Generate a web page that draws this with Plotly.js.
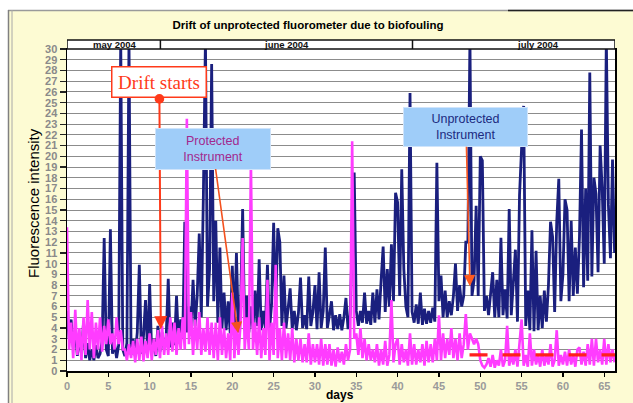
<!DOCTYPE html>
<html><head><meta charset="utf-8">
<script src="https://cdn.plot.ly/plotly-3.0.1.min.js"></script>
<style>html,body{margin:0;padding:0;background:#fff;overflow:hidden}#chart{width:633px;height:403px}</style>
</head><body><div id="chart"></div>
<script>
// sampling step of both series (days)
const dayStep = 0.25;

// Unprotected instrument (navy) – 4 readings per day, day 0 .. 66.25
const unprotected = [
 5.6,3.0,4.8,2.2, 3.8,1.4,3.2,1.6, 4.5,1.2,2.6,1.0, 2.0,1.0,2.4,1.2,
 1.6,2.8,12.4,2.0, 1.4,13.2,1.6,2.6, 1.2,2.4,31,2.0, 1.4,2.6,31,1.5,
 3.0,1.4,3.6,9.9, 1.6,3.2,6.6,1.8, 8.1,1.6,3.0,1.4, 4.2,1.8,3.6,2.0,
 3.2,8.6,2.2,4.5, 2.4,7.0,2.6,4.8, 3.0,13.9,3.6,6.0, 4.0,8.5,4.2,7.0,
 12.8,5.0,16.4,31, 6.0,9.5,28.6,6.5, 14.0,4.5,11.5,4.0, 7.3,3.8,6.5,3.5,
 9.8,3.8,11.0,3.6, 6.0,15.1,3.8,7.0, 3.6,6.0,4.0,7.5, 4.2,10.4,3.8,5.6,
 4.0,9.9,3.8,6.2, 13.8,5.5,13.3,12.0, 4.2,8.9,4.0,5.8, 7.7,3.9,5.6,3.8,
 5.4,8.7,4.0,5.2, 3.9,8.8,4.2,5.5, 8.0,3.9,9.2,4.0, 5.6,11.5,4.0,5.2,
 6.5,3.8,5.2,3.9, 5.3,3.8,5.0,6.8, 3.9,5.2,12.9,18.5, 5.6,4.2,5.6,4.5,
 7.3,4.4,5.6,4.3, 7.3,4.5,7.6,4.8, 8.4,11.6,5.5,9.5, 6.0,11.8,6.5,16.6,
 15.7,7.0,18.8,9.5, 6.0,5.0,25.9,5.5, 4.5,6.2,4.4,7.3, 4.3,5.8,4.4,5.6,
 4.5,5.9,4.6,19.4, 6.5,8.9,5.0,7.5, 5.0,6.5,5.2,7.0, 10.0,5.6,8.0,6.0,
 7.0,12.0,12.0,31, 7.0,8.5,15.4,7.0, 20.0,19.6,5.6,7.0, 5.2,7.2,9.2,5.0,
 8.5,5.0,12.4,5.2, 7.6,4.9,15.1,5.2, 8.0,11.3,4.6,16.4, 20.8,24.7,4.2,7.5,
 3.8,13.1,3.7,11.2, 3.8,7.0,4.0,7.5, 4.6,8.0,13.9,12.5, 5.5,13.9,17.9,6.5,
 9.0,16.0,15.0,6.5, 14.0,7.0,11.5,7.2, 12.5,22.5,7.8,17.0, 8.4,27.8,8.8,18.0,
 16.5,9.2,21.0,17.0, 10.0,31,15.5,10.5, 19.7,11.0
];

// Protected instrument (magenta) – 4 readings per day, day 0 .. 66.25
const protectedInstr = [
 13.4,2.0,4.5,1.2, 5.7,1.5,4.0,1.0, 5.0,1.5,6.6,2.0, 5.5,1.2,4.5,2.0,
 5.0,1.8,4.2,2.5, 4.8,2.5,3.5,2.0, 5.0,2.5,3.8,2.0, 2.0,1.0,2.5,1.2,
 2.8,0.8,3.0,1.0, 3.2,0.9,2.8,1.2, 3.5,1.0,3.0,1.5, 3.8,1.2,4.2,1.5,
 3.5,1.5,5.0,1.8, 4.5,1.5,4.0,2.0, 5.0,2.0,23.5,2.5, 5.5,1.5,4.8,2.0,
 5.5,1.5,4.0,1.8, 5.0,1.5,4.5,1.2, 4.5,1.0,5.0,1.5, 4.0,1.2,3.5,1.0,
 7.3,1.2,4.5,1.5, 4.5,12.4,2.0,5.0, 2.0,19.5,2.0,4.5, 1.5,5.0,1.2,4.0,
 1.5,8.5,1.0,4.5, 1.5,9.9,1.2,4.0, 1.0,4.5,1.2,3.5, 1.0,4.0,0.8,3.0,
 1.0,3.0,0.8,2.5, 0.8,3.5,0.6,2.5, 0.8,2.5,0.6,3.0, 0.5,2.5,0.6,2.5,
 0.5,2.0,0.4,2.2, 0.8,1.8,0.6,2.5, 1.0,2.0,21.4,3.0, 3.5,1.5,4.0,1.2,
 3.0,1.0,2.5,1.0, 2.0,0.8,2.5,0.5, 2.0,0.6,2.8,0.5, 1.5,6.6,0.8,2.5,
 3.0,0.6,2.5,0.8, 2.0,0.5,3.5,0.6, 2.5,0.6,2.0,0.8, 2.5,0.5,2.8,0.8,
 2.5,0.8,3.0,1.0, 5.2,1.0,3.5,1.2, 3.0,1.5,4.0,1.2, 3.0,1.0,3.5,1.2,
 2.5,5.3,2.0,3.5, 3.0,2.5,3.0,2.5, 1.0,0.5,0.3,0.6, 1.2,0.4,1.5,0.3,
 1.0,0.5,2.0,0.4, 1.0,4.2,0.5,1.5, 0.6,2.0,0.4,2.5, 4.8,0.5,1.5,0.4,
 3.5,0.5,2.0,0.6, 1.5,0.4,2.0,0.5, 1.5,0.6,2.5,0.4, 1.0,3.8,0.5,1.5,
 0.6,1.8,0.5,2.0, 0.6,1.5,0.4,2.0, 2.2,0.6,1.8,0.5, 2.5,0.6,3.0,0.5,
 3.0,0.8,2.0,0.6, 3.0,0.6,2.5,0.8, 2.0,0.8
];

// red dashed reference level
const refDays = [48.7, 66.3];
const refLevel = [1.5, 1.5];

// month header
const monthLabels = ['may 2004', 'june 2004', 'july 2004'];
const monthBounds = [0, 11.3, 41.8, 66.3];
const monthLabelDays = [5.8, 26.5, 57.0];

const xTicks = [0,5,10,15,20,25,30,35,40,45,50,55,60,65];

const days = unprotected.map((_, i) => i * dayStep);

// pixel -> paper helpers (plot area: x 67..615, y 49..371)
const L = 67, R = 615, T = 49, B = 371;
const px = v => (v - L) / (R - L);
const py = v => (B - v) / (B - T);

const traces = [
  {x: days, y: unprotected, type: 'scatter', mode: 'lines',
   line: {color: '#1a1f7e', width: 2.8}, hoverinfo: 'skip'},
  {x: days, y: protectedInstr, type: 'scatter', mode: 'lines',
   line: {color: '#ff3cff', width: 2.6}, hoverinfo: 'skip'},
  {x: refDays, y: refLevel, type: 'scatter', mode: 'lines',
   line: {color: '#ff1f1f', width: 3.2, dash: '18px,15px'}, hoverinfo: 'skip'}
];

const shapes = [
  // white outside frame
  {type: 'rect', xref: 'paper', yref: 'paper', x0: px(-5), x1: px(8), y0: py(410), y1: py(-5),
   fillcolor: '#ffffff', line: {width: 0}},
  {type: 'rect', xref: 'paper', yref: 'paper', x0: px(-5), x1: px(640), y0: py(10), y1: py(-5),
   fillcolor: '#ffffff', line: {width: 0}},
  {type: 'line', xref: 'paper', yref: 'paper', x0: px(8), x1: px(640), y0: py(10.5), y1: py(10.5),
   line: {color: '#9a9a9a', width: 1.5}},
  {type: 'line', xref: 'paper', yref: 'paper', x0: px(508), x1: px(640), y0: py(10.5), y1: py(10.5),
   line: {color: '#222222', width: 1.5}},
  {type: 'line', xref: 'paper', yref: 'paper', x0: px(8.5), x1: px(8.5), y0: py(10), y1: py(410),
   line: {color: '#808080', width: 1.5}},
  {type: 'line', xref: 'paper', yref: 'paper', x0: px(12), x1: px(12), y0: py(10), y1: py(410),
   line: {color: '#a8a8a8', width: 1}},
  // month header bar
  {type: 'rect', xref: 'x', yref: 'paper', x0: monthBounds[0], x1: monthBounds[3], y0: 1, y1: py(40),
   fillcolor: '#ffffff', line: {color: '#111', width: 1.5}}
];
for (let i = 1; i < monthBounds.length - 1; i++) {
  shapes.push({type: 'line', xref: 'x', yref: 'paper', x0: monthBounds[i], x1: monthBounds[i],
    y0: 1, y1: py(40), line: {color: '#111', width: 1.5}});
}

const annotations = monthLabels.map((t, i) => ({
  text: t, xref: 'x', yref: 'paper', x: monthLabelDays[i], y: py(44.5),
  showarrow: false, yanchor: 'middle',
  font: {family: 'Arial, Liberation Sans, sans-serif', size: 9.5, weight: 'bold', color: '#111'}
}));

annotations.push(
  {text: 'Fluorescence intensity', xref: 'paper', yref: 'paper', x: px(33), y: py(203),
   textangle: -90, showarrow: false, xanchor: 'center', yanchor: 'middle',
   font: {family: 'Arial, Liberation Sans, sans-serif', size: 15, color: '#000'}},
  {text: 'days', xref: 'paper', yref: 'paper', x: px(340), y: py(395),
   showarrow: false, xanchor: 'center', yanchor: 'middle',
   font: {family: 'Arial, Liberation Sans, sans-serif', size: 12, weight: 'bold', color: '#000'}},
  {text: 'Drift starts', x: 11.35, y: 3.9, ax: -1.5, ay: -247.5,
   font: {family: 'Liberation Serif, Times New Roman, serif', size: 19, color: '#ff3a1a'},
   bgcolor: '#ffffff', bordercolor: '#ff3a1a', borderwidth: 1.5, borderpad: 3,
   width: 87, height: 23,
   showarrow: true, arrowcolor: '#ff3a1a', arrowwidth: 2, arrowhead: 2, arrowsize: 1.3,
   arrowside: 'end+start', startarrowhead: 6, startarrowsize: 1.2, startstandoff: 2},
  {text: 'Protected<br>Instrument', x: 20.7, y: 3.54, ax: -25.3, ay: -184.5,
   font: {family: 'Arial, Liberation Sans, sans-serif', size: 12.5, color: '#a2288e'},
   bgcolor: '#9fcdf9', bordercolor: '#cfe4fb', borderwidth: 1, borderpad: 2,
   width: 110, height: 36,
   showarrow: true, arrowcolor: '#f4511e', arrowwidth: 1.6, arrowhead: 2, arrowsize: 1.4},
  {text: 'Unprotected<br>Instrument', x: 48.75, y: 7.9, ax: -4, ay: -159,
   font: {family: 'Arial, Liberation Sans, sans-serif', size: 12.5, color: '#1c2a80'},
   bgcolor: '#9fcdf9', bordercolor: '#cfe4fb', borderwidth: 1, borderpad: 2,
   width: 119, height: 34,
   showarrow: true, arrowcolor: '#ff5a1f', arrowwidth: 1.6, arrowhead: 2, arrowsize: 1.4}
);

const layout = {
  width: 633, height: 403,
  margin: {l: L, r: 633 - R, t: T, b: 403 - B, pad: 0},
  paper_bgcolor: '#fdfbd3', plot_bgcolor: '#ffffff',
  showlegend: false,
  title: {text: 'Drift of unprotected fluorometer due to biofouling',
    x: 308 / 633, xanchor: 'center', y: 1 - 25 / 403, yanchor: 'middle', xref: 'container', yref: 'container',
    font: {family: 'Arial, Liberation Sans, sans-serif', size: 11.5, weight: 'bold', color: '#000'}},
  xaxis: {range: [0, 66.3], tickmode: 'array', tickvals: xTicks, ticktext: xTicks.map(String),
    ticks: 'outside', ticklen: 4, tickwidth: 1.2, tickcolor: '#000',
    showline: true, linecolor: '#000', linewidth: 1.5, mirror: true,
    showgrid: false, zeroline: false, fixedrange: true,
    tickfont: {family: 'Arial, Liberation Sans, sans-serif', size: 11, weight: 'bold', color: '#9a9a9a'}},
  yaxis: {range: [0, 30], tickmode: 'linear', tick0: 0, dtick: 1,
    ticks: 'outside', ticklen: 6, tickwidth: 1.2, tickcolor: '#222',
    showline: true, linecolor: '#000', linewidth: 1.5, mirror: true,
    showgrid: true, gridcolor: '#8c8c8c', gridwidth: 1, zeroline: false, fixedrange: true,
    tickfont: {family: 'Arial, Liberation Sans, sans-serif', size: 11, weight: 'bold', color: '#8a8a8a'}},
  shapes: shapes,
  annotations: annotations
};

Plotly.newPlot('chart', traces, layout, {displayModeBar: false, staticPlot: true});
</script>
</body></html>
